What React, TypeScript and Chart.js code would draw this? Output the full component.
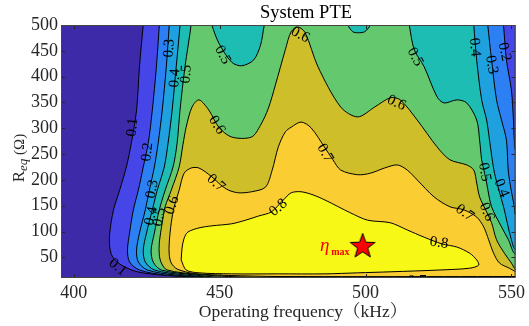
import React, { useEffect, useRef } from 'react';
import { Chart, registerables } from 'chart.js';

Chart.register(...registerables);

// ---------------- data ----------------
const xTicks = [400, 450, 500, 550];
const yTicks = [50, 100, 150, 200, 250, 300, 350, 400, 450, 500];
const xRange = [395.6, 551.4];
const yRange = [10, 500];

const levels = ['0.1', '0.2', '0.3', '0.4', '0.5', '0.6', '0.7', '0.8'];
const lowColor = '#3c2aa8';
const levelColors = ['#4646e8', '#2d80f4', '#1fa0df', '#1ebdb4', '#64c86e', '#cebe2a', '#facd32', '#f7f816'];

// region where PTE > level (kHz, ohm)
const fullArea = [[380, -60], [570, -60], [570, 600], [380, 600]];
const region01 = [[424.5, 530], [423.8, 500], [422.5, 419], [421.5, 335], [419.7, 271], [418.0, 225], [415.7, 180], [413.6, 142], [412.3, 97], [412.3, 70], [413.3, 51], [416.3, 35], [421.8, 22], [430.0, 16], [441.2, 12], [453.1, 10], [460, -20], [570, -20], [570, 530]];
const region02 = [[429.6, 530], [429.3, 500], [428.3, 419], [426.9, 335], [425.5, 271], [423.8, 225], [422.1, 180], [420.4, 142], [419.1, 97], [418.4, 64], [419.1, 41], [422.5, 25.5], [431.0, 16], [442.9, 12], [454.8, 9], [460, -20], [570, -20], [570, 250], [551.7, 258], [551.0, 277], [550.7, 316], [550.0, 374], [548.3, 432], [547.3, 500], [546.9, 530]];
const region03 = [[433.0, 530], [432.7, 500], [431.7, 419], [430.3, 335], [428.9, 271], [427.6, 225], [425.9, 180], [424.5, 142], [422.5, 97], [421.5, 64], [422.1, 41], [425.2, 25.5], [434.4, 16], [444.6, 12], [456.5, 8], [462, -20], [570, -20], [570, 125], [551.7, 132], [551.0, 148], [549.0, 213], [548.3, 277], [546.6, 316], [544.9, 355], [543.2, 432], [541.9, 500], [541.5, 530]];
const region04 = [[436.6, 530], [436.4, 500], [435.1, 419], [433.7, 335], [432.3, 271], [431.0, 225], [428.6, 180], [426.9, 142], [424.9, 97], [423.8, 64], [424.5, 41], [427.6, 25.5], [437.8, 16], [446.3, 12], [458.2, 8], [464, -20], [570, -20], [570, 55], [551.7, 64], [550.0, 84], [547.3, 148], [544.2, 213], [542.5, 277], [541.5, 316], [539.8, 355], [538.1, 432], [537.1, 500], [536.8, 530]];
const region05 = [[440.5, 530], [440.2, 500], [438.1, 419], [436.4, 335], [435.4, 271], [434.0, 225], [431.3, 180], [429.3, 142], [427.6, 97], [426.5, 64], [427.2, 41], [430.0, 25.5], [441.2, 16], [448.0, 12], [459.9, 8], [466, -20], [570, -20], [570, 45], [551.7, 55], [549.0, 84], [546.6, 109], [543.2, 148], [541.5, 194], [540.8, 213], [539.8, 239], [539.1, 277], [538.1, 316], [534.7, 349], [531.3, 355], [526.9, 349], [524.5, 361], [520.1, 419], [516.7, 452], [515.0, 500], [514.3, 530], [502.6, 530], [502.2, 512], [501.7, 500], [499.7, 487], [497.3, 485], [495.6, 487], [493.9, 500], [493.4, 512], [493.0, 530], [466.4, 530], [466.0, 512], [465.3, 500], [464.0, 461], [461.6, 432], [457.5, 421], [454.1, 428], [449.7, 465], [447.3, 500], [446.8, 512], [446.5, 530]];
const region06 = [[463.3, 11], [453.1, 12.9], [442.9, 16.8], [432.0, 25.5], [430.0, 39], [429.3, 55], [429.3, 78], [430.3, 117], [431.3, 148], [433.4, 180], [436.1, 225], [437.4, 268], [438.5, 302], [440.5, 341], [442.9, 355], [446.3, 335], [449.7, 302], [454.1, 283], [460.9, 283], [464.0, 306], [466.7, 339], [469.1, 384], [472.5, 452], [474.5, 487], [476.9, 496], [479.3, 485], [483.7, 419], [491.5, 341], [497.3, 322], [503.1, 341], [508.5, 359], [511.9, 355], [517.7, 316], [524.5, 264], [528.9, 239], [534.7, 229], [537.1, 219], [538.1, 194], [539.1, 167], [541.5, 138], [543.2, 117], [544.9, 84], [547.6, 58], [550.0, 39], [551.7, 25.5], [560, 15], [560, -20], [463.3, -20]];
const region07 = [[453.1, 14.8], [441.2, 18.7], [435.4, 27.4], [433.4, 39], [432.7, 55], [432.7, 78], [433.4, 117], [434.4, 148], [436.1, 180], [437.8, 213], [440.2, 223], [442.9, 223], [447.3, 206], [450.4, 190], [453.1, 180], [456.5, 175], [460.9, 177], [465.7, 186], [468.0, 219], [470.1, 264], [472.5, 293], [474.5, 302], [477.9, 312], [481.3, 301], [486.1, 262], [488.8, 239], [491.5, 219], [497.3, 210], [501.7, 213], [506.5, 223], [510.9, 229], [514.3, 219], [517.7, 200], [523.5, 167], [528.9, 148], [533.7, 142], [538.1, 128], [540.5, 109], [542.2, 84], [543.9, 58], [545.9, 39], [549.3, 29], [551.7, 22], [560, 13], [560, 12.9], [470, 12.9], [453.1, 14.8]];
const region08 = [[436.8, 45], [437.1, 68], [437.8, 87], [439.1, 99], [442.9, 107], [447.3, 111], [454.1, 115], [458.9, 122], [463.3, 130], [467.7, 138], [471.8, 161], [474.5, 175], [477.9, 177], [482.0, 171], [486.1, 161], [494.9, 136], [500.7, 122], [508.5, 117], [514.3, 103], [520.1, 89], [526.2, 76], [531.3, 70], [535.7, 58], [538.1, 45], [538.8, 35], [535.7, 29], [525.5, 25.5], [508.5, 22], [497.3, 20], [486.1, 18], [470.1, 18], [454.1, 18], [442.9, 20], [438.5, 25.5], [436.8, 45]];
const regions = [region01, region02, region03, region04, region05, region06, region07, region08];

const etaMax = { x: 499.0, y: 72 };
const etaText = { x: 484.4, y: 62 };
const etaSub = { x: 488.2, y: 54.5 };

const contourLabels = [
  { text: '0.1', x: 420.1, y: 302, angle: -84 },
  { text: '0.2', x: 425.2, y: 254, angle: -84 },
  { text: '0.3', x: 432.7, y: 455, angle: -86 },
  { text: '0.4', x: 434.7, y: 397, angle: -86 },
  { text: '0.5', x: 438.5, y: 405, angle: -86 },
  { text: '0.3', x: 426.9, y: 182, angle: -80 },
  { text: '0.4', x: 426.5, y: 130, angle: -78 },
  { text: '0.5', x: 429.3, y: 128, angle: -78 },
  { text: '0.6', x: 433.7, y: 151, angle: -72 },
  { text: '0.5', x: 451.0, y: 442, angle: 62 },
  { text: '0.6', x: 477.6, y: 481, angle: 28 },
  { text: '0.6', x: 449.0, y: 306, angle: 58 },
  { text: '0.5', x: 517.0, y: 438, angle: 62 },
  { text: '0.6', x: 510.6, y: 349, angle: 25 },
  { text: '0.4', x: 537.4, y: 457, angle: 85 },
  { text: '0.3', x: 543.2, y: 423, angle: 80 },
  { text: '0.2', x: 547.6, y: 448, angle: 78 },
  { text: '0.7', x: 486.1, y: 252, angle: 60 },
  { text: '0.7', x: 448.7, y: 194, angle: 42 },
  { text: '0.8', x: 470.1, y: 146, angle: -40 },
  { text: '0.8', x: 525.2, y: 78, angle: 8 },
  { text: '0.7', x: 534.0, y: 136, angle: 35 },
  { text: '0.6', x: 541.5, y: 138, angle: 68 },
  { text: '0.5', x: 540.8, y: 215, angle: 80 },
  { text: '0.4', x: 546.6, y: 184, angle: 68 },
  { text: '0.1', x: 415.0, y: 31, angle: 40 },
  { text: '0.7', x: 517.7, y: 4, angle: 0 },
];

const chartTitle = 'System PTE';
const xTitle = 'Operating frequency（kHz）';

// ---------------- helpers ----------------
const toPts = (a: number[][]) => a.map(([x, y]) => ({ x, y }));
const SERIF = '"Liberation Serif", "Noto Serif CJK SC", "Noto Sans CJK SC", serif';

const overlay = {
  id: 'overlay',
  afterDatasetsDraw(chart: any) {
    const { ctx, chartArea: a, scales } = chart;
    const xs = scales.x;
    const ys = scales.y;
    ctx.save();
    ctx.beginPath();
    ctx.rect(a.left, a.top, a.right - a.left, a.bottom - a.top);
    ctx.clip();
    ctx.fillStyle = '#000';
    ctx.font = `15px ${SERIF}`;
    ctx.textAlign = 'center';
    ctx.textBaseline = 'middle';
    for (const l of contourLabels) {
      ctx.save();
      ctx.translate(xs.getPixelForValue(l.x), ys.getPixelForValue(l.y));
      ctx.rotate((l.angle * Math.PI) / 180);
      ctx.fillText(l.text, 0, 0);
      ctx.restore();
    }
    ctx.fillStyle = '#ff0000';
    ctx.textAlign = 'left';
    ctx.textBaseline = 'alphabetic';
    ctx.font = `italic 19px ${SERIF}`;
    ctx.fillText('η', xs.getPixelForValue(etaText.x), ys.getPixelForValue(etaText.y));
    ctx.font = `bold 10px ${SERIF}`;
    ctx.fillText('max', xs.getPixelForValue(etaSub.x), ys.getPixelForValue(etaSub.y));
    ctx.restore();

    ctx.save();
    ctx.strokeStyle = '#262626';
    ctx.lineWidth = 1;
    ctx.beginPath();
    for (const v of yTicks) {
      const py = Math.round(ys.getPixelForValue(v)) + 0.5;
      ctx.moveTo(a.left, py);
      ctx.lineTo(a.left + 4, py);
      ctx.moveTo(a.right, py);
      ctx.lineTo(a.right - 4, py);
    }
    for (const v of xTicks) {
      const px = Math.round(xs.getPixelForValue(v)) + 0.5;
      ctx.moveTo(px, a.bottom);
      ctx.lineTo(px, a.bottom - 4);
      ctx.moveTo(px, a.top);
      ctx.lineTo(px, a.top + 4);
    }
    ctx.stroke();
    ctx.strokeStyle = '#444';
    ctx.strokeRect(a.left + 0.5, a.top + 0.5, a.right - a.left - 1, a.bottom - a.top - 1);
    ctx.restore();
  },
  afterDraw(chart: any) {
    const { ctx } = chart;
    ctx.save();
    ctx.fillStyle = '#000';
    ctx.textAlign = 'center';
    ctx.textBaseline = 'alphabetic';
    ctx.font = `18.5px ${SERIF}`;
    ctx.fillText(chartTitle, 306, 18);
    ctx.fillStyle = '#262626';
    ctx.font = `17.5px ${SERIF}`;
    ctx.fillText(xTitle, 303, 317);

    // y title: R_eq (Ω)
    ctx.translate(24, 158);
    ctx.rotate(-Math.PI / 2);
    const parts = [
      { t: 'R', f: `17px ${SERIF}`, dy: 0 },
      { t: 'eq', f: `italic 13px ${SERIF}`, dy: 3 },
      { t: ' (Ω)', f: `15px ${SERIF}`, dy: 0 },
    ];
    let w = 0;
    for (const p of parts) {
      ctx.font = p.f;
      w += ctx.measureText(p.t).width;
    }
    let cx = -w / 2;
    ctx.textAlign = 'left';
    for (const p of parts) {
      ctx.font = p.f;
      ctx.fillText(p.t, cx, p.dy);
      cx += ctx.measureText(p.t).width;
    }
    ctx.restore();
  },
};

export default function App() {
  const ref = useRef<HTMLCanvasElement>(null);

  useEffect(() => {
    const canvas = ref.current;
    if (!canvas) return;

    const star = document.createElement('canvas');
    star.width = 30;
    star.height = 30;
    const sc = star.getContext('2d')!;
    sc.beginPath();
    for (let i = 0; i < 10; i++) {
      const r = i % 2 === 0 ? 13 : 5.3;
      const ang = -Math.PI / 2 + (i * Math.PI) / 5;
      const px = 15 + r * Math.cos(ang);
      const py = 15.5 + r * Math.sin(ang);
      if (i === 0) sc.moveTo(px, py);
      else sc.lineTo(px, py);
    }
    sc.closePath();
    sc.fillStyle = '#ff0000';
    sc.fill();
    sc.strokeStyle = '#000';
    sc.lineWidth = 1;
    sc.stroke();

    const datasets: any[] = [
      {
        label: 'eta max',
        data: [etaMax],
        showLine: false,
        pointStyle: star,
        pointRadius: 13,
        order: 0,
        clip: false,
      },
    ];
    regions.forEach((r, i) => {
      datasets.push({
        label: levels[i],
        data: toPts(r),
        showLine: true,
        fill: 'shape',
        backgroundColor: levelColors[i],
        borderColor: '#000',
        borderWidth: 1,
        pointRadius: 0,
        tension: 0.3,
        order: regions.length - i,
        clip: 0,
      });
    });
    datasets.push({
      label: 'low',
      data: toPts(fullArea),
      showLine: true,
      fill: 'shape',
      backgroundColor: lowColor,
      borderWidth: 0,
      pointRadius: 0,
      order: regions.length + 1,
      clip: 0,
    });

    const tickFont = { family: 'Liberation Serif', size: 18 };
    const chart = new Chart(canvas, {
      type: 'line',
      data: { datasets },
      options: {
        animation: false,
        responsive: false,
        devicePixelRatio: 1,
        events: [],
        layout: { padding: { top: 25, right: 10, left: 0, bottom: 0 }, autoPadding: false },
        elements: { line: { capBezierPoints: false } },
        plugins: {
          legend: { display: false },
          tooltip: { enabled: false },
          title: { display: false },
        },
        scales: {
          x: {
            type: 'linear',
            min: xRange[0],
            max: xRange[1],
            afterBuildTicks: (s: any) => {
              s.ticks = xTicks.map((v) => ({ value: v }));
            },
            afterFit: (s: any) => {
              s.height = 48;
            },
            grid: { display: false, drawTicks: false },
            border: { display: false },
            ticks: { font: tickFont, color: '#262626', padding: 4, maxRotation: 0, autoSkip: false },
          },
          y: {
            type: 'linear',
            min: yRange[0],
            max: yRange[1],
            afterBuildTicks: (s: any) => {
              s.ticks = yTicks.map((v) => ({ value: v }));
            },
            afterFit: (s: any) => {
              s.width = 61;
            },
            grid: { display: false, drawTicks: false },
            border: { display: false },
            ticks: { font: tickFont, color: '#262626', padding: 3, autoSkip: false },
          },
        },
      } as any,
      plugins: [overlay],
    });
    return () => chart.destroy();
  }, []);

  return (
    <div style={{ position: 'absolute', left: 0, top: 0, width: 529, height: 326 }}>
      <canvas ref={ref} width={529} height={326} style={{ display: 'block' }} />
    </div>
  );
}
